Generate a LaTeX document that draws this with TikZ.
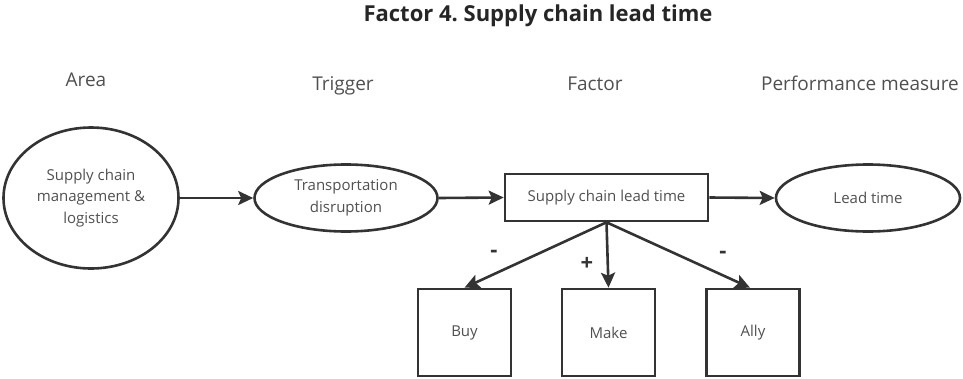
\documentclass[tikz,border=0pt]{standalone}
\usepackage{fontspec}
\setmainfont{Open Sans}
\usetikzlibrary{arrows.meta,shapes.geometric}
\definecolor{ink}{HTML}{333333}
\definecolor{txt}{HTML}{505050}
\frenchspacing
\tikzset{
  every node/.style={text=txt},
  bodyfont/.style={font=\fontsize{15}{21.5}\selectfont},
  oval/.style={draw=ink, line width=2.6pt, ellipse, inner sep=0pt, align=center, bodyfont},
  factorbox/.style={draw=ink, line width=2.6pt, minimum width=203pt, minimum height=47pt, bodyfont},
  choicebox/.style={draw=ink, line width=2.6pt, minimum width=93pt, minimum height=87pt, bodyfont},
  heading/.style={anchor=base, font=\fontsize{19}{22}\selectfont},
  sign/.style={font=\bfseries\fontsize{22}{24}\selectfont, text=ink},
  link/.style={draw=ink, line width=2.6pt, -{Stealth[length=15pt, width=14pt, inset=3pt]}}
}
\begin{document}
\begin{tikzpicture}[x=1pt, y=-1pt]
  \useasboundingbox (0,0) rectangle (963,378);
  % title and column headings
  \node[anchor=base, font=\bfseries\fontsize{22}{24}\selectfont, text=black!85] (title) at (538,21) {Factor 4. Supply chain lead time};
  \node[heading] (hArea) at (86,86) {Area};
  \node[heading] (hTrigger) at (343,90) {Trigger};
  \node[heading] (hFactor) at (595,90) {Factor};
  \node[heading] (hPerf) at (860,90) {Performance measure};
  % main chain
  \node[oval, minimum width=175pt, minimum height=141pt] (area) at (91,198) {Supply chain\\management \&\\logistics};
  \node[oval, minimum width=183pt, minimum height=67pt] (trigger) at (346,198) {Transportation\\disruption};
  \node[factorbox] (factor) at (606.5,197.5) {Supply chain lead time};
  \node[oval, minimum width=184pt, minimum height=67pt] (perf) at (868,198) {Lead time};
  % outcome boxes
  \node[choicebox] (buy) at (464.5,332.5) {Buy};
  \node[choicebox] (make) at (608.5,332.5) {Make};
  \node[choicebox] (ally) at (753,332.5) {Ally};
  % connectors
  \draw[link] (area.east) -- (trigger.west);
  \draw[link] (trigger.east) -- (factor.west);
  \draw[link] (factor.east) -- (perf.west);
  \coordinate (split) at (factor.south);
  \draw[link] (split) -- (buy.north);
  \draw[link] (split) -- (make.north);
  \draw[link] (split) -- ([xshift=-3pt]ally.north);
  % signs on the branches
  \node[sign] (sBuy) at (494,254) {-};
  \node[sign] (sMake) at (587,264) {+};
  \node[sign] (sAlly) at (723,255) {-};
\end{tikzpicture}
\end{document}
